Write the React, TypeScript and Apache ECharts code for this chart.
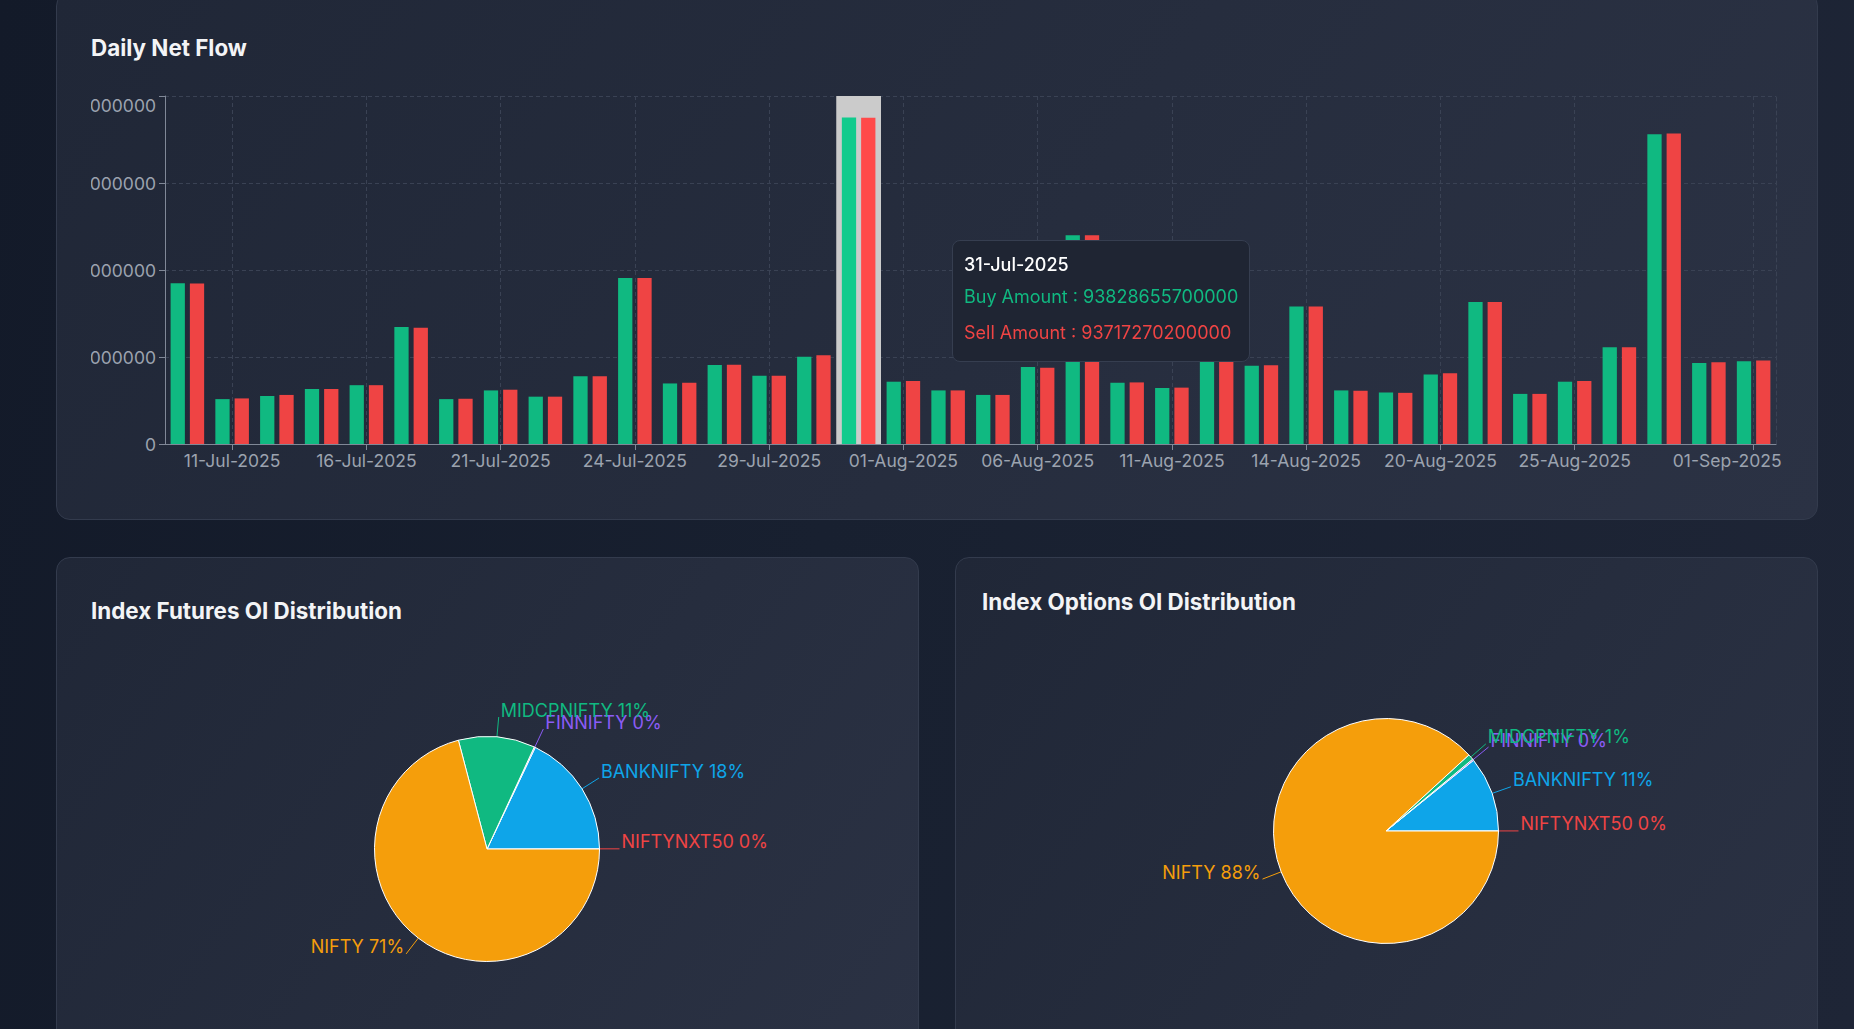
import React, { useEffect, useRef } from "react";
import * as echarts from "echarts";

// ---------- data ----------
const dates = [
  "10-Jul-2025", "11-Jul-2025", "14-Jul-2025", "15-Jul-2025", "16-Jul-2025", "17-Jul-2025",
  "18-Jul-2025", "21-Jul-2025", "22-Jul-2025", "23-Jul-2025", "24-Jul-2025", "25-Jul-2025",
  "28-Jul-2025", "29-Jul-2025", "30-Jul-2025", "31-Jul-2025", "01-Aug-2025", "04-Aug-2025",
  "05-Aug-2025", "06-Aug-2025", "07-Aug-2025", "08-Aug-2025", "11-Aug-2025", "12-Aug-2025",
  "13-Aug-2025", "14-Aug-2025", "18-Aug-2025", "19-Aug-2025", "20-Aug-2025", "21-Aug-2025",
  "22-Aug-2025", "25-Aug-2025", "26-Aug-2025", "28-Aug-2025", "29-Aug-2025", "01-Sep-2025",
];

const buyAmounts = [
  46.2e12, 12.9e12, 13.8e12, 15.8e12, 16.9e12, 33.6e12,
  12.9e12, 15.4e12, 13.6e12, 19.5e12, 47.7e12, 17.4e12,
  22.7e12, 19.6e12, 25.1e12, 93828655700000, 17.9e12, 15.4e12,
  14.1e12, 22.1e12, 60.0e12, 17.6e12, 16.1e12, 24.5e12,
  22.5e12, 39.5e12, 15.4e12, 14.8e12, 20.0e12, 40.8e12,
  14.4e12, 17.9e12, 27.8e12, 89.0e12, 23.3e12, 23.8e12,
];

const sellAmounts = [
  46.1e12, 13.1e12, 14.1e12, 15.8e12, 16.9e12, 33.4e12,
  13.0e12, 15.6e12, 13.6e12, 19.5e12, 47.7e12, 17.6e12,
  22.8e12, 19.6e12, 25.5e12, 93717270200000, 18.1e12, 15.4e12,
  14.1e12, 21.9e12, 60.0e12, 17.7e12, 16.2e12, 24.5e12,
  22.6e12, 39.5e12, 15.3e12, 14.7e12, 20.3e12, 40.8e12,
  14.4e12, 18.1e12, 27.8e12, 89.2e12, 23.5e12, 24.0e12,
];

const labeledDates = [
  "11-Jul-2025", "16-Jul-2025", "21-Jul-2025", "24-Jul-2025", "29-Jul-2025", "01-Aug-2025",
  "06-Aug-2025", "11-Aug-2025", "14-Aug-2025", "20-Aug-2025", "25-Aug-2025", "01-Sep-2025",
];
const tooltipDate = "31-Jul-2025";

const yMin = 0;
const yMax = 100000000000000;
const yStep = 25000000000000;

const sliceNames = ["NIFTYNXT50", "BANKNIFTY", "FINNIFTY", "MIDCPNIFTY", "NIFTY"];
const futuresShares = [0.04, 17.9, 0.15, 11.0, 70.9];
const optionsShares = [0.02, 10.8, 0.2, 0.8, 88.2];
const sliceColors = ["#ef4444", "#0ea5e9", "#8b5cf6", "#10b981", "#f59e0b"];

// ---------- styles ----------
const FONT = "Inter, 'Noto Sans', sans-serif";
const axisColor = "#808897";
const labelColor = "#9ca3af";
const gridColor = "#3a4254";
const buyColor = "#10b981";
const sellColor = "#ef4444";
const shadowColor = "#cbcbcb";

const cardStyle = (left: number, top: number, width: number, height: number): React.CSSProperties => ({
  position: "absolute",
  left,
  top,
  width,
  height,
  boxSizing: "border-box",
  borderRadius: 14,
  border: "1px solid #333b4d",
  background: "linear-gradient(125deg, #202737 0%, #262d3e 55%, #2b3244 100%)",
});

function barOption(): any {
  const showIdx = (i: number) => labeledDates.indexOf(dates[i]) >= 0;
  const lastIdx = dates.length - 1;
  const categoryData = dates.map((d, i) =>
    i === lastIdx ? { value: d, textStyle: { align: "right", padding: [0, -28, 0, 0] } } : d
  );
  const pointer = { type: "shadow", z: 1, shadowStyle: { color: shadowColor, opacity: 1 } };
  return {
    animation: false,
    title: {
      text: "Daily Net Flow",
      left: 0,
      top: 36,
      padding: 0,
      textStyle: { color: "#f3f4f6", fontSize: 22.4, fontWeight: 700, fontFamily: FONT },
    },
    grid: {
      left: 74,
      top: 96,
      width: 1611,
      height: 348,
      containLabel: false,
      outerBoundsMode: "none",
    },
    tooltip: {
      trigger: "axis",
      triggerOn: "none",
      alwaysShowContent: true,
      transitionDuration: 0,
      showDelay: 0,
      axisPointer: pointer,
      position: [861, 240],
      backgroundColor: "#1f2533",
      borderColor: "#363e50",
      borderWidth: 1,
      padding: 0,
      textStyle: { fontFamily: FONT, fontSize: 18 },
      extraCssText: "border-radius:8px;box-shadow:none;",
      formatter: (params: any) => {
        const p = Array.isArray(params) ? params : [params];
        const name = p[0].name;
        const rows = p
          .map(
            (s: any, k: number) =>
              `<div style="color:${s.color};font-size:18px;line-height:24px;margin-top:${k === 0 ? 8 : 12}px;">${s.seriesName} : ${String(s.value)}</div>`
          )
          .join("");
        return `<div style="padding:12px 11px 16px 11px;font-family:${FONT};white-space:nowrap;"><div style="color:#ffffff;font-size:18px;font-weight:500;line-height:24px;">${name}</div>${rows}</div>`;
      },
    },
    xAxis: {
      type: "category",
      data: categoryData,
      boundaryGap: true,
      axisPointer: pointer,
      axisLine: { show: true, lineStyle: { color: axisColor, width: 1 } },
      axisTick: { show: true, alignWithLabel: true, interval: showIdx, length: 6, lineStyle: { color: axisColor } },
      axisLabel: { interval: showIdx, color: labelColor, fontSize: 17.5, fontFamily: FONT, margin: 7 },
      splitLine: { show: true, interval: showIdx, alignWithLabel: true, lineStyle: { color: gridColor, type: [4, 3] } },
    },
    yAxis: [
      {
        type: "value",
        min: yMin,
        max: yMax,
        interval: yStep,
        axisLine: { show: true, lineStyle: { color: axisColor } },
        axisTick: { show: true, length: 6, lineStyle: { color: axisColor } },
        axisLabel: {
          color: labelColor,
          fontSize: 17.5,
          fontFamily: FONT,
          margin: 9,
          formatter: (v: number) => String(v),
          verticalAlignMaxLabel: "top",
        },
        splitLine: { show: true, lineStyle: { color: gridColor, type: [4, 3] } },
      },
      {
        type: "value",
        position: "right",
        min: 0,
        max: 1,
        axisLine: { show: true, lineStyle: { color: gridColor, type: [4, 3] } },
        axisTick: { show: false },
        axisLabel: { show: false },
        splitLine: { show: false },
      },
    ],
    series: [
      {
        name: "Buy Amount",
        type: "bar",
        z: 3,
        data: buyAmounts,
        itemStyle: { color: buyColor },
        barGap: "35%",
        barCategoryGap: "25%",
      },
      {
        name: "Sell Amount",
        type: "bar",
        z: 3,
        data: sellAmounts,
        itemStyle: { color: sellColor },
        barGap: "35%",
        barCategoryGap: "25%",
      },
    ],
  };
}

function pieOption(title: string, shares: number[], center: number[], titleLeft: number, titleTop: number): any {
  return {
    animation: false,
    title: {
      text: title,
      left: titleLeft,
      top: titleTop,
      padding: 0,
      textStyle: { color: "#f3f4f6", fontSize: 22.4, fontWeight: 700, fontFamily: FONT },
    },
    series: [
      {
        type: "pie",
        center,
        radius: 112.5,
        startAngle: 0,
        clockwise: false,
        avoidLabelOverlap: false,
        labelLayout: { hideOverlap: false },
        itemStyle: { borderColor: "#ffffff", borderWidth: 1 },
        emphasis: { disabled: true },
        label: {
          show: true,
          position: "outside",
          fontSize: 18,
          fontFamily: FONT,
          distanceToLabelLine: 2,
          formatter: (p: any) => `{t|${p.name} ${Math.round(p.percent)}%}\n{s| }`,
          rich: {
            t: { fontSize: 18, lineHeight: 20, fontFamily: FONT },
            s: { fontSize: 1, lineHeight: 14 },
          },
        },
        labelLine: { show: true, length: 20, length2: 0, lineStyle: { width: 1 } },
        data: sliceNames.map((n, i) => ({
          name: n,
          value: shares[i],
          itemStyle: { color: sliceColors[i] },
          label: { color: sliceColors[i] },
          labelLine: { lineStyle: { color: sliceColors[i] } },
        })),
      },
    ],
  };
}

export default function App() {
  const barRef = useRef<HTMLDivElement>(null);
  const pie1Ref = useRef<HTMLDivElement>(null);
  const pie2Ref = useRef<HTMLDivElement>(null);

  useEffect(() => {
    document.body.style.margin = "0";
    const bar = echarts.init(barRef.current!, null, { renderer: "svg" });
    bar.setOption(barOption());
    bar.dispatchAction({ type: "showTip", seriesIndex: 0, dataIndex: dates.indexOf(tooltipDate) });

    const p1 = echarts.init(pie1Ref.current!, null, { renderer: "svg" });
    p1.setOption(pieOption("Index Futures OI Distribution", futuresShares, [431, 292], 35, 42));
    const p2 = echarts.init(pie2Ref.current!, null, { renderer: "svg" });
    p2.setOption(pieOption("Index Options OI Distribution", optionsShares, [431, 274], 27, 33));

    return () => {
      bar.dispose();
      p1.dispose();
      p2.dispose();
    };
  }, []);

  return (
    <div
      style={{
        position: "fixed",
        left: 0,
        top: 0,
        width: 1854,
        height: 1029,
        overflow: "hidden",
        background: "linear-gradient(100deg, #131a29 0%, #182030 45%, #1e2536 100%)",
        fontFamily: FONT,
      }}
    >
      <div style={cardStyle(56, -8, 1762, 528)} />
      <div style={cardStyle(56, 557, 863, 520)} />
      <div style={cardStyle(955, 557, 863, 520)} />
      <div ref={barRef} style={{ position: "absolute", left: 91, top: 0, width: 1691, height: 520 }} />
      <div ref={pie1Ref} style={{ position: "absolute", left: 56, top: 557, width: 863, height: 472 }} />
      <div ref={pie2Ref} style={{ position: "absolute", left: 955, top: 557, width: 863, height: 472 }} />
    </div>
  );
}
